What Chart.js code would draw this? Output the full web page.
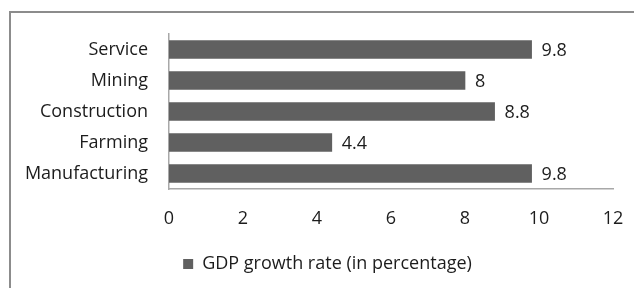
<!DOCTYPE html>
<html><head><meta charset="utf-8">
<script src="https://cdn.jsdelivr.net/npm/chart.js@4/dist/chart.umd.min.js"></script>
<style>
html,body{margin:0;padding:0;background:#fff;overflow:hidden;width:634px;height:288px;}
#frame{position:absolute;left:9px;top:11px;width:700px;height:400px;border:2px solid #8c8c8c;box-sizing:border-box;}
#wrap{position:absolute;left:0;top:0;width:634px;height:288px;}
</style></head>
<body>
<div id="frame"></div>
<div id="wrap"><canvas id="c" width="634" height="288"></canvas></div>
<script>
const categories = ["Service", "Mining", "Construction", "Farming", "Manufacturing"];
const seriesName = "GDP growth rate (in percentage)";
const growthValues = [9.8, 8, 8.8, 4.4, 9.8];
const xTicks = [0, 2, 4, 6, 8, 10, 12];

const FONT = "'Open Sans', sans-serif";
const FS = 18;
const TEXT = "#1c1c1c";
const BAR = "#606060";

const valueLabels = {
  id: 'valueLabels',
  afterLayout(chart) {
    if (chart.legend) { chart.legend.left += 42; }
  },
  afterDatasetsDraw(chart) {
    const ctx = chart.ctx;
    const meta = chart.getDatasetMeta(0);
    ctx.save();
    ctx.font = FS + "px " + FONT;
    ctx.fillStyle = TEXT;
    ctx.textAlign = 'left';
    ctx.textBaseline = 'middle';
    meta.data.forEach((bar, i) => {
      ctx.fillText(String(chart.data.datasets[0].data[i]), bar.x + 10, bar.y + 1);
    });
    ctx.restore();
  }
};

new Chart(document.getElementById('c'), {
  type: 'bar',
  data: {
    labels: categories,
    datasets: [{
      label: seriesName,
      data: growthValues,
      backgroundColor: BAR,
      borderWidth: 0,
      barThickness: 18
    }]
  },
  options: {
    indexAxis: 'y',
    responsive: false,
    animation: false,
    layout: { padding: { left: 0, right: 21, top: 34, bottom: 5 } },
    scales: {
      x: {
        min: 0, max: 12,
        afterBuildTicks(scale) { scale.ticks = xTicks.map(v => ({ value: v })); },
        afterFit(scale) { scale.height = 56; scale.paddingLeft = 0; scale.paddingRight = 0; },
        grid: { display: false, drawTicks: false },
        border: { display: true, color: '#a8a8a8', width: 1.5 },
        ticks: { padding: 19, color: TEXT, font: { family: FONT, size: FS } }
      },
      y: {
        afterFit(scale) { scale.width = 169; scale.paddingTop = 0; scale.paddingBottom = 0; },
        grid: { display: false, drawTicks: false },
        border: { display: true, color: '#a8a8a8', width: 1.5 },
        ticks: { padding: 21, color: TEXT, font: { family: FONT, size: FS } }
      }
    },
    plugins: {
      tooltip: { enabled: false },
      legend: {
        position: 'bottom',
        labels: {
          boxWidth: 10, boxHeight: 10, padding: 10,
          color: TEXT,
          font: { family: FONT, size: FS }
        }
      }
    }
  },
  plugins: [valueLabels]
});
</script>
</body></html>
